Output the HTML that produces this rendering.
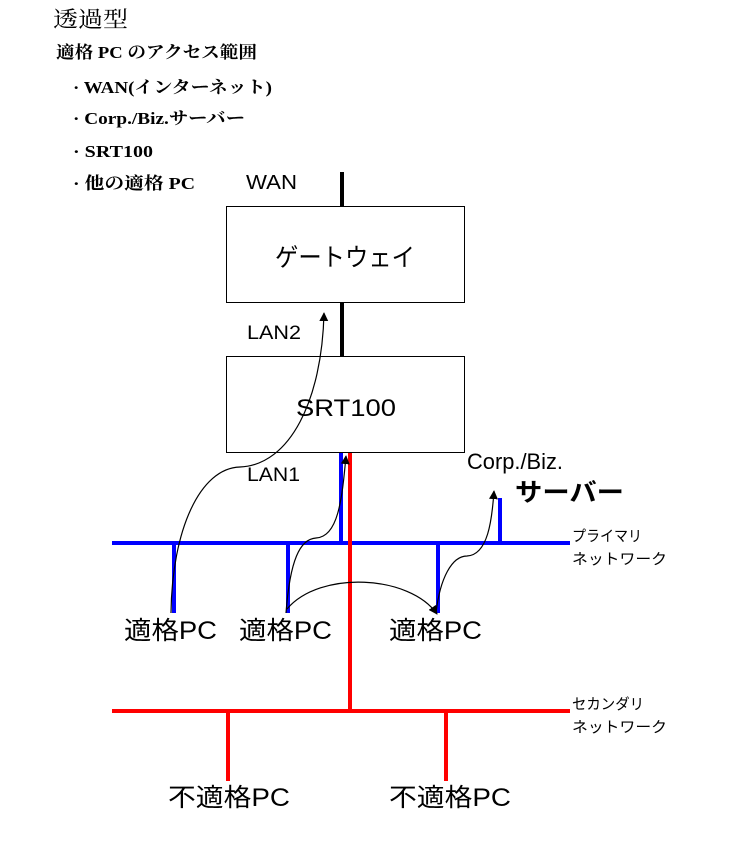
<!DOCTYPE html>
<html><head><meta charset="utf-8"><style>
html,body{margin:0;padding:0;background:#fff;width:750px;height:850px;overflow:hidden}
.s{font-family:"Liberation Serif","Noto Serif CJK SC",serif;font-weight:bold;fill:#000}
.a{font-family:"Liberation Sans","Noto Sans CJK JP",sans-serif;fill:#000}
</style></head><body>
<svg width="750" height="850" viewBox="0 0 750 850" xmlns="http://www.w3.org/2000/svg">
<defs><marker id="ar" viewBox="0 0 10 10" markerWidth="9" markerHeight="9" refX="9" refY="5" orient="auto" markerUnits="userSpaceOnUse"><path d="M0,0 L10,5 L0,10 Z" fill="#000"/></marker></defs>
<text x="53" y="27" font-size="22" font-family="Liberation Serif, Noto Serif CJK SC, serif" textLength="75" lengthAdjust="spacingAndGlyphs">透過型</text>
<text x="56" y="58" class="s" font-size="17" textLength="201" lengthAdjust="spacingAndGlyphs">適格 PC のアクセス範囲</text>
<text x="73" y="93" class="s" font-size="17" textLength="199" lengthAdjust="spacingAndGlyphs">· WAN(インターネット)</text>
<text x="73" y="124" class="s" font-size="17" textLength="172" lengthAdjust="spacingAndGlyphs">· Corp./Biz.サーバー</text>
<text x="73" y="157" class="s" font-size="17" textLength="80" lengthAdjust="spacingAndGlyphs">· SRT100</text>
<text x="73" y="189" class="s" font-size="17" textLength="122" lengthAdjust="spacingAndGlyphs">·  他の適格 PC</text>
<text x="246" y="189" class="a" font-size="20" textLength="51" lengthAdjust="spacingAndGlyphs">WAN</text>
<line x1="342" y1="172" x2="342" y2="206" stroke="#000" stroke-width="4"/>
<line x1="342" y1="303" x2="342" y2="356" stroke="#000" stroke-width="4"/>
<rect x="226.5" y="206.5" width="238" height="96" fill="#fff" stroke="#000"/>
<text x="275" y="266" class="a" font-size="25" textLength="140" lengthAdjust="spacingAndGlyphs">ゲートウェイ</text>
<rect x="226.5" y="356.5" width="238" height="96" fill="#fff" stroke="#000"/>
<text x="296" y="416" class="a" font-size="24" textLength="100" lengthAdjust="spacingAndGlyphs">SRT100</text>
<text x="247" y="339" class="a" font-size="19" textLength="54" lengthAdjust="spacingAndGlyphs">LAN2</text>
<text x="247" y="481" class="a" font-size="19" textLength="53" lengthAdjust="spacingAndGlyphs">LAN1</text>
<line x1="341" y1="453" x2="341" y2="543" stroke="#00f" stroke-width="4"/>
<line x1="112" y1="543" x2="570" y2="543" stroke="#00f" stroke-width="4"/>
<line x1="174" y1="543" x2="174" y2="613" stroke="#00f" stroke-width="4"/>
<line x1="288" y1="543" x2="288" y2="613" stroke="#00f" stroke-width="4"/>
<line x1="438" y1="543" x2="438" y2="613" stroke="#00f" stroke-width="4"/>
<line x1="500" y1="498" x2="500" y2="543" stroke="#00f" stroke-width="4"/>
<line x1="350" y1="453" x2="350" y2="711" stroke="#f00" stroke-width="4"/>
<line x1="112" y1="711" x2="570" y2="711" stroke="#f00" stroke-width="4"/>
<line x1="228" y1="711" x2="228" y2="781" stroke="#f00" stroke-width="4"/>
<line x1="446" y1="711" x2="446" y2="781" stroke="#f00" stroke-width="4"/>
<text x="467" y="469" class="a" font-size="22" textLength="96" lengthAdjust="spacingAndGlyphs">Corp./Biz.</text>
<text x="515" y="501" class="a" font-size="25" font-weight="bold" textLength="109" lengthAdjust="spacingAndGlyphs">サーバー</text>
<text x="572" y="541" class="a" font-size="15" textLength="70" lengthAdjust="spacingAndGlyphs">プライマリ</text>
<text x="572" y="564" class="a" font-size="15" textLength="95" lengthAdjust="spacingAndGlyphs">ネットワーク</text>
<text x="572" y="709" class="a" font-size="15" textLength="72" lengthAdjust="spacingAndGlyphs">セカンダリ</text>
<text x="572" y="732" class="a" font-size="15" textLength="95" lengthAdjust="spacingAndGlyphs">ネットワーク</text>
<text x="124" y="639" class="a" font-size="25" textLength="93" lengthAdjust="spacingAndGlyphs">適格PC</text>
<text x="239" y="639" class="a" font-size="25" textLength="93" lengthAdjust="spacingAndGlyphs">適格PC</text>
<text x="389" y="639" class="a" font-size="25" textLength="93" lengthAdjust="spacingAndGlyphs">適格PC</text>
<text x="168" y="806" class="a" font-size="25" textLength="122" lengthAdjust="spacingAndGlyphs">不適格PC</text>
<text x="389" y="806" class="a" font-size="25" textLength="122" lengthAdjust="spacingAndGlyphs">不適格PC</text>
<g fill="none" stroke="#000" stroke-width="1.2">
<path d="M171,613 C172,530 200,468 240,467 C290,465 322,400 324,313" marker-end="url(#ar)"/>
<path d="M286,613 C290,560 300,539 316,538 C338,537 342,500 346,456" marker-end="url(#ar)"/>
<path d="M436,613 C440,578 452,556 467,556 C488,555 492,520 494,491" marker-end="url(#ar)"/>
<path d="M287,609 C320,570 410,575 437,614" marker-end="url(#ar)"/>
</g>
</svg>
</body></html>
